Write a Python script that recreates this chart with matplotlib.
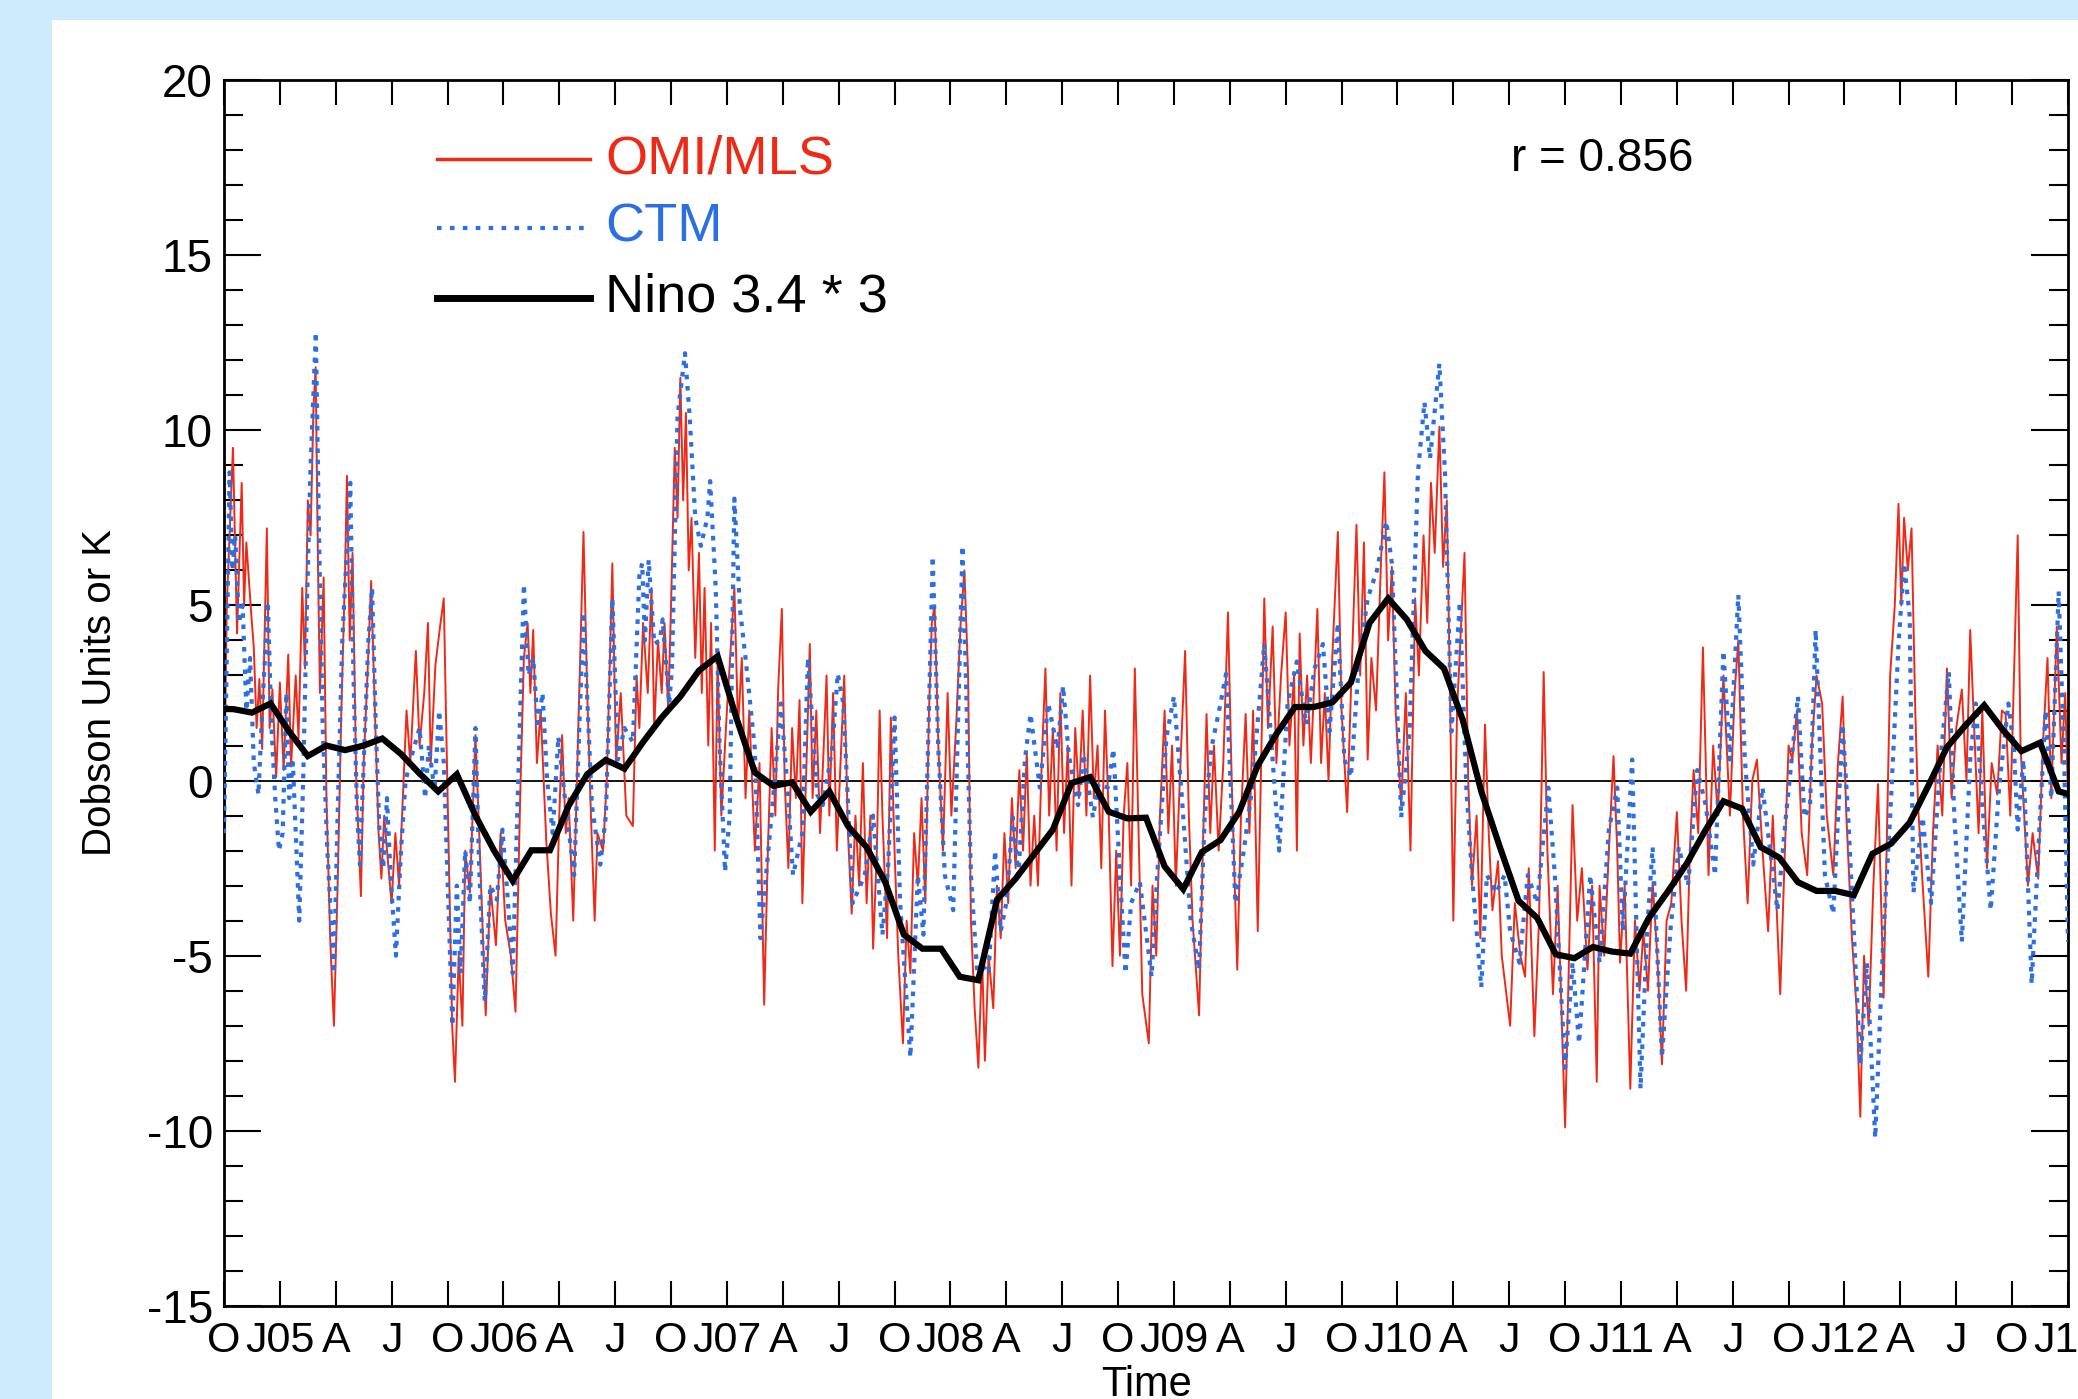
import numpy as np
import matplotlib.pyplot as plt
from matplotlib.patches import Rectangle
from matplotlib.ticker import MultipleLocator

plt.rcParams['font.family'] = ['Liberation Sans', 'DejaVu Sans']
plt.rcParams['axes.unicode_minus'] = False

# time axis: months since 1 Oct 2004
# OMI/MLS (red) as (month, DU)
omi = [
    (0.00, -0.9), (0.15, 5.0), (0.48, 9.5), (0.70, 4.2), (0.95, 8.5), (1.08, 5.0), (1.20, 6.8),
    (1.47, 4.7), (1.60, 3.8), (1.75, 1.5), (1.90, 2.9), (2.05, 0.9), (2.30, 7.2), (2.45, 1.5),
    (2.60, 2.6), (2.80, 0.1), (3.00, 2.8), (3.20, 0.3), (3.45, 3.6), (3.60, 0.4), (3.85, 3.0),
    (4.00, 1.2), (4.20, 5.5), (4.35, 3.2), (4.50, 8.0), (4.65, 7.0), (4.80, 10.6), (4.92, 11.8),
    (5.05, 6.0), (5.15, 2.5), (5.35, 5.8), (5.50, -0.5), (5.70, -4.5), (5.90, -7.0), (6.10, -3.0),
    (6.30, 2.0), (6.50, 6.0), (6.60, 8.7), (6.75, 4.0), (6.90, 6.5), (7.10, 0.0), (7.35, -3.3),
    (7.50, 0.5), (7.70, 3.0), (7.90, 5.7), (8.10, 2.0), (8.30, -1.5), (8.45, -2.8), (8.60, -1.0),
    (8.80, -2.3), (9.00, -3.5), (9.20, -1.5), (9.40, -3.0), (9.60, -0.5), (9.80, 2.0), (10.00, 0.5),
    (10.30, 3.7), (10.50, 1.0), (10.75, 2.5), (10.95, 4.5), (11.10, 0.5), (11.35, 3.3), (11.60, 4.4),
    (11.80, 5.2), (11.95, 1.0), (12.10, -3.0), (12.25, -7.0), (12.40, -8.6), (12.60, -5.0),
    (12.80, -7.0), (12.95, -2.0), (13.20, -3.2), (13.50, 1.3), (13.70, -1.5), (13.90, -4.5),
    (14.05, -6.7), (14.30, -3.0), (14.60, -4.7), (14.85, -1.5), (15.10, -4.0), (15.40, -5.0),
    (15.65, -6.6), (15.90, -0.5), (16.10, 3.5), (16.30, 4.5), (16.45, 2.5), (16.60, 4.3),
    (16.80, 0.5), (17.00, 2.0), (17.30, -1.7), (17.55, -3.8), (17.80, -5.0), (18.00, -1.0),
    (18.15, 1.3), (18.35, -1.5), (18.50, -0.5), (18.75, -4.0), (18.95, 0.0), (19.10, 3.0),
    (19.30, 7.1), (19.50, 2.5), (19.70, -1.0), (19.90, -4.0), (20.05, -1.5), (20.35, -2.0),
    (20.55, 0.0), (20.85, 6.2), (21.05, 0.5), (21.30, 2.5), (21.60, -1.0), (21.95, -1.3),
    (22.15, 3.0), (22.30, 1.5), (22.50, 4.5), (22.75, 2.5), (22.95, 5.5), (23.10, 1.5),
    (23.30, 4.0), (23.50, 2.5), (23.65, 4.5), (23.85, 2.0), (24.00, 5.0), (24.20, 9.5),
    (24.35, 7.5), (24.50, 11.5), (24.65, 8.0), (24.80, 10.5), (24.95, 6.0), (25.10, 7.5),
    (25.30, 3.5), (25.50, 6.5), (25.65, 2.5), (25.80, 5.5), (26.00, 1.0), (26.15, 4.5),
    (26.35, -2.0), (26.50, 3.5), (26.70, -1.0), (27.00, 2.0), (27.40, 5.5), (27.60, 1.5),
    (27.80, 3.5), (28.00, -0.5), (28.20, 2.0), (28.50, -2.0), (28.75, 0.5), (29.00, -6.4),
    (29.20, -2.0), (29.40, 1.5), (29.60, -1.0), (29.75, 2.6), (29.95, 4.9), (30.10, 0.0),
    (30.30, -2.5), (30.50, 1.5), (30.70, -0.5), (30.90, 2.3), (31.05, -3.5), (31.30, 1.0),
    (31.45, 3.9), (31.60, -0.5), (31.80, 2.0), (32.00, -1.5), (32.20, 1.0), (32.35, 3.0),
    (32.50, -1.0), (32.70, 2.5), (32.90, -2.0), (33.10, 0.5), (33.30, 3.0), (33.50, -1.5),
    (33.70, -3.8), (33.90, -1.0), (34.10, -3.0), (34.30, 0.5), (34.50, -3.5), (34.70, -1.0),
    (34.85, -4.8), (35.05, -2.0), (35.20, 2.0), (35.35, -1.0), (35.60, -4.5), (35.80, 1.8),
    (36.00, -2.0), (36.20, -5.0), (36.45, -7.5), (36.65, -4.0), (36.85, -5.5), (37.05, -1.5),
    (37.25, -3.0), (37.45, -0.5), (37.65, -3.5), (37.85, 2.0), (38.00, 4.5), (38.15, 5.0),
    (38.35, 1.0), (38.60, -2.0), (38.85, 2.5), (39.05, -1.0), (39.30, 1.5), (39.55, 4.5),
    (39.75, 6.0), (39.95, 3.0), (40.10, -4.0), (40.30, -6.5), (40.50, -8.2), (40.70, -5.0),
    (40.85, -8.0), (41.05, -5.0), (41.30, -6.5), (41.50, -3.0), (41.70, -4.5), (41.90, -1.5),
    (42.10, -3.5), (42.30, -0.5), (42.50, -2.5), (42.70, 0.3), (42.90, -2.0), (43.10, 0.8),
    (43.30, -3.0), (43.50, -1.0), (43.70, -3.0), (43.90, 0.5), (44.10, 3.2), (44.30, -1.0),
    (44.50, 1.5), (44.70, -2.0), (44.90, 2.5), (45.10, -1.5), (45.30, 1.0), (45.50, -3.0),
    (45.70, 1.5), (45.90, -0.5), (46.10, 2.0), (46.30, -1.0), (46.50, 3.0), (46.70, -0.5),
    (46.90, 1.0), (47.10, -2.5), (47.30, 2.0), (47.50, -1.0), (47.70, -5.3), (47.90, -2.0),
    (48.10, -5.0), (48.30, -1.0), (48.50, 0.5), (48.70, -3.0), (48.90, 3.2), (49.10, -1.5),
    (49.30, -6.1), (49.65, -7.5), (49.85, -3.0), (50.05, -5.0), (50.25, -1.0), (50.50, 2.0),
    (50.70, -1.5), (50.90, 1.0), (51.10, -3.0), (51.35, 0.5), (51.60, 3.7), (51.80, -1.0),
    (52.00, -4.0), (52.35, -6.7), (52.55, -2.0), (52.75, 1.9), (52.95, -1.5), (53.15, 1.0),
    (53.40, -2.0), (53.65, 0.5), (53.90, 4.8), (54.10, 0.0), (54.40, -5.4), (54.60, -1.0),
    (54.85, 1.9), (55.05, -1.5), (55.25, 2.0), (55.50, -4.3), (55.70, 1.0), (55.85, 5.2),
    (56.05, 1.5), (56.30, 4.4), (56.50, 0.5), (56.75, 3.0), (57.00, 4.8), (57.20, 1.0),
    (57.45, 3.0), (57.60, -2.0), (57.75, 4.2), (57.95, 1.0), (58.15, 3.0), (58.35, 0.5),
    (58.70, 4.9), (58.90, 0.5), (59.10, 2.5), (59.30, 0.0), (59.50, 3.5), (59.80, 7.1),
    (60.00, 2.0), (60.30, -0.9), (60.50, 2.5), (60.80, 7.3), (61.00, 3.0), (61.20, 6.8),
    (61.40, 0.6), (61.60, 3.5), (61.85, 2.0), (62.10, 6.0), (62.30, 8.8), (62.50, 4.0),
    (62.70, 6.1), (62.90, 2.0), (63.20, -0.7), (63.45, 2.5), (63.70, -2.0), (63.95, 5.2),
    (64.15, 3.0), (64.40, 7.0), (64.60, 4.5), (64.80, 8.5), (65.00, 6.5), (65.25, 10.1),
    (65.45, 6.1), (65.65, 8.0), (65.80, 3.2), (66.00, -4.0), (66.20, 2.0), (66.60, 6.5),
    (66.80, 0.0), (67.00, -3.0), (67.25, -1.0), (67.45, -4.5), (67.70, 1.6), (67.90, -1.5),
    (68.10, -3.7), (68.40, -2.3), (68.60, -5.0), (69.05, -7.0), (69.30, -3.5), (69.60, -5.0),
    (69.85, -5.6), (70.05, -2.5), (70.35, -7.3), (70.60, -4.0), (70.85, 3.1), (71.05, -2.0),
    (71.35, -6.1), (71.60, -3.0), (72.00, -9.9), (72.40, -0.7), (72.65, -4.0), (72.90, -2.5),
    (73.20, -5.4), (73.45, -3.0), (73.70, -8.6), (73.85, -3.0), (74.10, -5.0), (74.35, -2.0),
    (74.60, 0.7), (74.80, -2.0), (74.95, -5.2), (75.20, -3.0), (75.50, -8.8), (75.75, -4.0),
    (76.00, -6.0), (76.20, -4.3), (76.45, -6.0), (76.70, -2.9), (76.95, -5.0), (77.20, -8.1),
    (77.45, -4.0), (77.70, -3.5), (78.00, -0.9), (78.25, -4.0), (78.50, -6.0), (78.70, -2.0),
    (78.90, 0.3), (79.15, -1.5), (79.40, 3.8), (79.70, -2.7), (79.95, 1.0), (80.20, -1.0),
    (80.50, 3.0), (80.85, -1.0), (81.10, 2.5), (81.30, 4.0), (81.55, -1.0), (81.80, -3.5),
    (82.05, 0.0), (82.30, 0.6), (82.60, -2.0), (82.90, -4.3), (83.15, -1.0), (83.55, -6.1),
    (83.80, -2.0), (84.00, 1.0), (84.20, 0.6), (84.45, 2.0), (84.70, -1.5), (85.00, -2.7),
    (85.25, 1.0), (85.50, 3.0), (85.80, 2.2), (86.05, -1.0), (86.40, -2.7), (86.65, 0.5),
    (86.90, 2.4), (87.10, -1.0), (87.40, -4.5), (87.65, -6.5), (87.85, -9.6), (88.05, -5.0),
    (88.30, -7.0), (88.55, -3.0), (88.80, -0.1), (89.10, -6.2), (89.30, -1.0), (89.45, 3.0),
    (89.70, 5.0), (89.90, 7.9), (90.05, 5.0), (90.20, 7.5), (90.40, 6.0), (90.60, 7.2),
    (90.80, 2.0), (90.95, -0.7), (91.20, -3.0), (91.50, -5.6), (91.75, -1.5), (92.00, 1.0),
    (92.25, -1.0), (92.50, 3.2), (92.75, -0.5), (93.00, 1.5), (93.30, 2.6), (93.55, 0.0),
    (93.75, 4.3), (94.00, 1.0), (94.20, -1.5), (94.40, 2.0), (94.65, -2.5), (94.90, 0.5),
    (95.20, -0.4), (95.45, 2.0), (95.65, 1.9), (95.90, -1.0), (96.10, 3.0), (96.30, 7.0),
    (96.45, 1.0), (96.60, -0.5), (96.85, -3.0), (97.10, -1.5), (97.40, -2.8), (97.65, 1.0),
    (97.90, 3.5), (98.10, -0.5), (98.40, 4.4), (98.65, 0.5), (98.85, 2.5), (99.00, -0.5),
]

# CTM (blue dotted)
ctm = [
    (0.00, -1.5), (0.10, 2.0), (0.30, 8.8), (0.45, 6.0), (0.60, 7.0), (0.80, 4.5), (1.00, 5.0),
    (1.20, 2.0), (1.40, 3.5), (1.60, 0.5), (1.85, -0.4), (2.05, 2.0), (2.35, 5.1), (2.55, 1.5),
    (2.75, -0.5), (2.95, -2.0), (3.15, -1.5), (3.35, 2.5), (3.50, -0.5), (3.70, 0.5), (4.04, -4.0),
    (4.25, 0.0), (4.45, 5.0), (4.65, 9.0), (4.93, 12.8), (5.10, 7.0), (5.30, 1.5), (5.55, -2.0),
    (5.90, -5.5), (6.10, -1.0), (6.35, 4.0), (6.78, 8.5), (6.95, 3.0), (7.15, -1.0), (7.30, -2.4),
    (7.50, 0.5), (7.75, 4.0), (7.95, 5.5), (8.15, 1.5), (8.35, -1.5), (8.55, -2.5), (8.75, -0.5),
    (8.95, -2.8), (9.23, -5.0), (9.50, -2.0), (9.75, 0.0), (10.10, 0.75), (10.50, 1.5),
    (10.80, -0.5), (11.00, 1.0), (11.30, -0.3), (11.55, 2.0), (11.80, 0.5), (12.26, -7.0),
    (12.50, -3.0), (12.70, -5.5), (12.95, -2.0), (13.20, -3.5), (13.50, 1.5), (13.70, -2.5),
    (14.00, -6.3), (14.30, -3.0), (14.65, -3.4), (14.95, -1.4), (15.25, -3.5), (15.50, -5.5),
    (15.80, 0.0), (16.10, 5.6), (16.35, 3.0), (16.60, 3.5), (16.85, 1.5), (17.10, 2.5),
    (17.35, 0.0), (17.65, -1.5), (17.95, 1.25), (18.30, -0.5), (18.80, -2.7), (19.10, 1.9),
    (19.30, 4.8), (19.75, -0.7), (20.20, -2.4), (20.50, -1.0), (20.85, 5.2), (21.15, 0.6),
    (21.50, 1.5), (21.95, 1.1), (22.30, 5.85), (22.45, 6.2), (22.60, 4.0), (22.80, 6.3),
    (23.10, 3.9), (23.40, 4.0), (23.55, 4.6), (23.90, 2.2), (24.05, 3.2), (24.35, 10.4),
    (24.75, 12.2), (25.00, 10.4), (25.30, 7.5), (25.60, 6.7), (25.95, 7.5), (26.10, 8.55),
    (26.40, 5.5), (26.60, 1.1), (26.90, -2.6), (27.15, -1.0), (27.40, 8.05), (27.70, 4.9),
    (28.00, 3.5), (28.50, 0.9), (28.80, -4.5), (29.10, -2.7), (29.45, -0.7), (29.90, 2.2),
    (30.25, -0.2), (30.55, -2.7), (31.05, -1.5), (31.35, 3.5), (31.85, -0.4), (32.15, -0.7),
    (32.65, 0.9), (32.95, 3.05), (33.25, 2.2), (33.75, -3.5), (34.40, -2.7), (34.85, -1.0),
    (35.35, -4.4), (35.65, -2.5), (36.00, 1.8), (36.30, -3.5), (36.85, -7.9), (37.25, -2.7),
    (37.55, -4.4), (38.05, 6.4), (38.35, 0.9), (38.70, -2.7), (39.15, -3.7), (39.65, 6.7),
    (40.10, -2.7), (40.45, -5.6), (40.75, -5.3), (41.05, -5.5), (41.40, -2.0), (41.70, -4.3),
    (42.00, -3.5), (42.35, -1.05), (42.65, -2.7), (43.00, 0.6), (43.30, 1.9), (43.80, -0.2),
    (44.25, 2.2), (44.75, 0.9), (45.05, 2.7), (45.35, 0.75), (45.85, -0.7), (46.15, 0.75),
    (46.65, -1.05), (46.95, -0.1), (47.45, -0.2), (47.75, 0.9), (48.10, -2.7), (48.40, -5.5),
    (48.70, -3.5), (49.17, -2.9), (49.80, -5.6), (50.10, -2.7), (50.60, 1.25), (51.00, 2.4),
    (51.40, -0.3), (51.90, -4.0), (52.35, -5.4), (52.65, -1.05), (53.00, 0.9), (53.50, 2.2),
    (53.80, 3.05), (54.30, -3.5), (54.75, -2.0), (55.20, -0.2), (55.85, 3.9), (56.30, 0.6),
    (56.65, -2.0), (57.10, 2.2), (57.60, 3.4), (58.10, 1.6), (58.55, 3.2), (59.00, 3.9),
    (59.35, 1.4), (59.80, 4.5), (60.15, 0.6), (60.50, 0.1), (60.95, 3.5), (61.40, 5.2),
    (61.90, 6.0), (62.40, 7.4), (62.70, 6.2), (63.20, -1.05), (63.65, 1.4), (64.10, 8.8),
    (64.45, 10.8), (64.75, 9.2), (65.25, 11.9), (65.55, 8.8), (65.90, 1.4), (66.35, 5.1),
    (66.70, -0.2), (67.00, -2.7), (67.50, -5.9), (67.80, -2.7), (68.30, -3.2), (68.75, -2.7),
    (69.05, -4.3), (69.55, -5.2), (70.00, -2.7), (70.50, -3.5), (71.10, -0.2), (71.45, -2.7),
    (72.00, -8.2), (72.40, -5.2), (72.75, -7.5), (73.35, -2.7), (73.85, -5.2), (74.35, -1.4),
    (74.80, -0.2), (75.10, -4.3), (75.60, 0.6), (76.05, -8.8), (76.40, -4.3), (76.70, -1.9),
    (77.20, -7.9), (77.65, -4.3), (78.10, -1.9), (78.60, -3.0), (79.10, 0.3), (79.55, -0.7),
    (80.05, -2.7), (80.50, 3.7), (80.85, 0.6), (81.30, 5.3), (81.65, 0.6), (82.10, -2.4),
    (82.60, -0.2), (83.40, -3.7), (83.85, -1.05), (84.50, 2.4), (84.85, -1.05), (85.15, -0.7),
    (85.45, 4.3), (85.95, -2.7), (86.40, -3.8), (86.90, 1.6), (87.20, -1.05), (87.85, -8.1),
    (88.20, -5.2), (88.65, -10.2), (89.10, -4.3), (89.45, -1.05), (89.90, 3.9), (90.20, 6.2),
    (90.50, 4.7), (90.70, -3.2), (91.20, -1.05), (91.65, -3.5), (92.15, 0.6), (92.60, 3.1),
    (92.90, -1.05), (93.30, -4.6), (93.75, 0.6), (94.05, 2.2), (94.40, -0.7), (94.85, -3.7),
    (95.30, -0.2), (95.80, 2.2), (96.10, 0.9), (96.30, -1.4), (96.60, 0.6), (97.05, -5.8),
    (97.50, -1.0), (97.80, 2.0), (98.10, -0.5), (98.50, 5.4), (98.80, 0.5), (99.00, -4.6),
]

# Nino 3.4 * 3, monthly, centred mid-month (month index -1 = Sep 2004)
nino_month = np.arange(-1, 100) + 0.5
nino_val = [
    2.05, 2.04, 1.94, 2.2, 1.4, 0.7, 1.0, 0.87, 1.0, 1.2, 0.76, 0.2, -0.31, 0.18, -1.0,
    -2.0, -2.86, -1.99, -1.99, -0.72, 0.18, 0.59, 0.34, 1.1, 1.8, 2.4, 3.14, 3.55, 1.8,
    0.23, -0.15, -0.05, -0.89, -0.31, -1.3, -1.9, -2.9, -4.4, -4.8, -4.8, -5.6, -5.7, -3.4,
    -2.8, -2.1, -1.4, -0.07, 0.1, -0.89, -1.08, -1.06, -2.45, -3.1, -2.04, -1.7, -0.9, 0.43,
    1.33, 2.1, 2.1, 2.23, 2.8, 4.5, 5.2, 4.6, 3.7, 3.2, 1.74, -0.31, -1.9, -3.43, -3.92,
    -4.96, -5.07, -4.75, -4.88, -4.94, -3.92, -3.18, -2.4, -1.45, -0.59, -0.8, -1.9, -2.2,
    -2.9, -3.15, -3.15, -3.27, -2.09, -1.8, -1.2, -0.15, 0.95, 1.58, 2.15, 1.45, 0.84, 1.08,
    -0.31, -0.45,
]

r_text = 'r = 0.856'
series_names = ['OMI/MLS', 'CTM', 'Nino 3.4 * 3']
yticks = [-15, -10, -5, 0, 5, 10, 15, 20]


def month_label(i):
    mon = (9 + i) % 12
    year = 2004 + (9 + i) // 12
    if mon == 0:
        return 'J%02d' % (year % 100)
    return {3: 'A', 6: 'J', 9: 'O'}[mon]


red = '#ee2a16'
blue = '#2b6fe3'

W, H = 2078, 1399
fig = plt.figure(figsize=(W / 100, H / 100), dpi=100)
fig.patch.set_facecolor('#cdebfd')
fig.add_artist(Rectangle((52 / W, 0), 1, 1 - 20 / H, transform=fig.transFigure,
                         facecolor='white', edgecolor='none', zorder=0))

ax = fig.add_axes([224 / W, 1 - 1306 / H, (2068 - 224) / W, (1306 - 80) / H])
ax.set_facecolor('white')

ot, ov = np.array(omi).T
ct, cv = np.array(ctm).T
ax.axhline(0, color='black', lw=1.3, zorder=1)
ax.plot(ot, ov, color=red, lw=1.4, zorder=2)
ax.plot(ct, cv, color=blue, lw=3.0, ls=(0, (1.1, 1.6)), zorder=3)
ax.plot(nino_month, nino_val, color='black', lw=4.5, zorder=4, solid_joinstyle='miter')

ax.set_xlim(0, 99)
ax.set_ylim(-15, 20)
xt = list(range(0, 100, 3))
ax.set_xticks(xt)
ax.set_xticklabels([month_label(i) for i in xt])
ax.set_yticks(yticks)
ax.set_yticklabels([str(v) for v in yticks])
ax.yaxis.set_minor_locator(MultipleLocator(1))

ax.tick_params(axis='x', which='major', direction='in', length=18, width=1.5,
               top=True, pad=11, labelsize=31)
ax.tick_params(axis='y', which='major', direction='in', length=26.5, width=1.5,
               right=True, pad=8, labelsize=33)
ax.tick_params(axis='y', which='minor', direction='in', length=13.5, width=1.5, right=True)
for s in ax.spines.values():
    s.set_linewidth(2)

ax.set_ylabel('Dobson Units or K', fontsize=29, labelpad=20)
fig.text(1146 / W, 3 / H, 'Time', fontsize=30, ha='center', va='baseline')

# legend drawn by hand, IDL style
leg_x0, leg_x1 = (437 - 224) / 1844, (590 - 224) / 1844
leg_tx = (605 - 224) / 1844
leg_y = [(1306 - 159) / 1226, (1306 - 228) / 1226, (1306 - 298) / 1226]
ax.plot([leg_x0, leg_x1], [leg_y[0]] * 2, color=red, lw=2.5, transform=ax.transAxes, clip_on=False)
ax.plot([leg_x0, leg_x1], [leg_y[1]] * 2, color=blue, lw=3.0, ls=(0, (1.1, 2.0)),
        transform=ax.transAxes, clip_on=False)
ax.plot([leg_x0, leg_x1], [leg_y[2]] * 2, color='black', lw=5, transform=ax.transAxes, clip_on=False)
for name, yy, c in zip(series_names, leg_y, [red, blue, 'black']):
    ax.text(leg_tx, yy, name, color=c, fontsize=39, va='center', ha='left', transform=ax.transAxes)

ax.text((1511 - 224) / 1844, leg_y[0], r_text, fontsize=33, va='center', ha='left',
        transform=ax.transAxes)

fig.savefig('out.png', dpi=100, facecolor=fig.get_facecolor())
